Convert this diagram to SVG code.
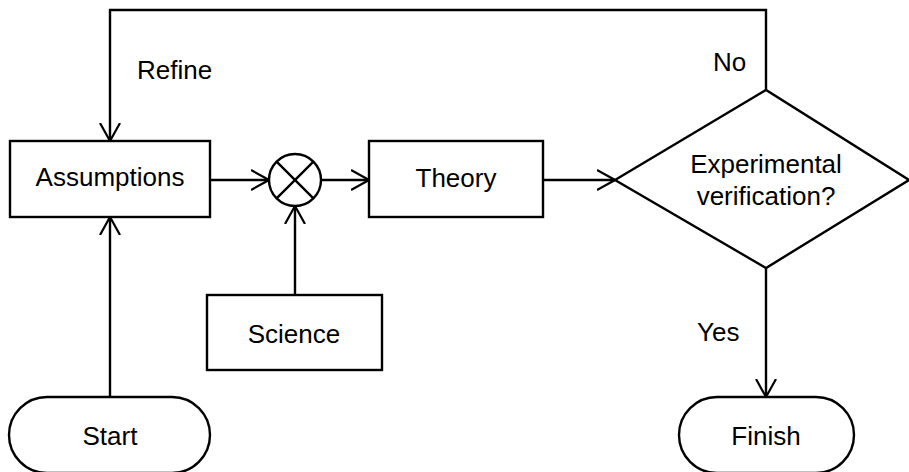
<svg xmlns="http://www.w3.org/2000/svg" width="909" height="472" viewBox="0 0 909 472">
<defs>
<marker id="arr" markerWidth="20" markerHeight="22" refX="18" refY="11" orient="auto" markerUnits="userSpaceOnUse">
<path d="M0,1 L18,11 L0,21" fill="none" stroke="#000" stroke-width="2.2"/>
</marker>
<style>
.s{fill:#fff;stroke:#000;stroke-width:2.4}
.c{fill:none;stroke:#000;stroke-width:2.4;marker-end:url(#arr)}
.l{fill:none;stroke:#000;stroke-width:2.4}
text{font-family:"Liberation Sans",Arial,sans-serif;font-size:26px;fill:#000}
.m{text-anchor:middle}
</style>
</defs>
<rect width="909" height="472" fill="#fff"/>
<g id="connectors">
<path class="c" d="M766,90 L766,10 L110,10 L110,141"/>
<path class="c" d="M210,180 L269,180"/>
<path class="c" d="M321,180 L369,180"/>
<path class="c" d="M543,180 L615,180"/>
<path class="c" d="M295,295 L295,206"/>
<path class="c" d="M110,397 L110,217"/>
<path class="c" d="M766,268 L766,397"/>
<text x="137" y="79">Refine</text>
<text x="713" y="71">No</text>
<text x="697" y="341">Yes</text>
</g>
<g id="assumptions">
<rect class="s" x="10" y="141" width="200" height="76"/>
<text class="m" x="110" y="186">Assumptions</text>
</g>
<g id="mult">
<circle class="s" cx="295" cy="180" r="26"/>
<path class="l" d="M276.6,161.6 L313.4,198.4 M313.4,161.6 L276.6,198.4"/>
</g>
<g id="theory">
<rect class="s" x="369" y="141" width="174" height="76"/>
<text class="m" x="456" y="187">Theory</text>
</g>
<g id="decision">
<polygon class="s" points="615,180 766,90 909,180 766,268"/>
<text class="m" x="766" y="173">Experimental</text>
<text class="m" x="766" y="205">verification?</text>
</g>
<g id="science">
<rect class="s" x="207" y="295" width="175" height="75"/>
<text class="m" x="294" y="343">Science</text>
</g>
<g id="start">
<rect class="s" x="9" y="397" width="201" height="76" rx="38" ry="38"/>
<text class="m" x="110" y="445">Start</text>
</g>
<g id="finish">
<rect class="s" x="679" y="397" width="175" height="76" rx="38" ry="38"/>
<text class="m" x="766" y="445">Finish</text>
</g>
</svg>
